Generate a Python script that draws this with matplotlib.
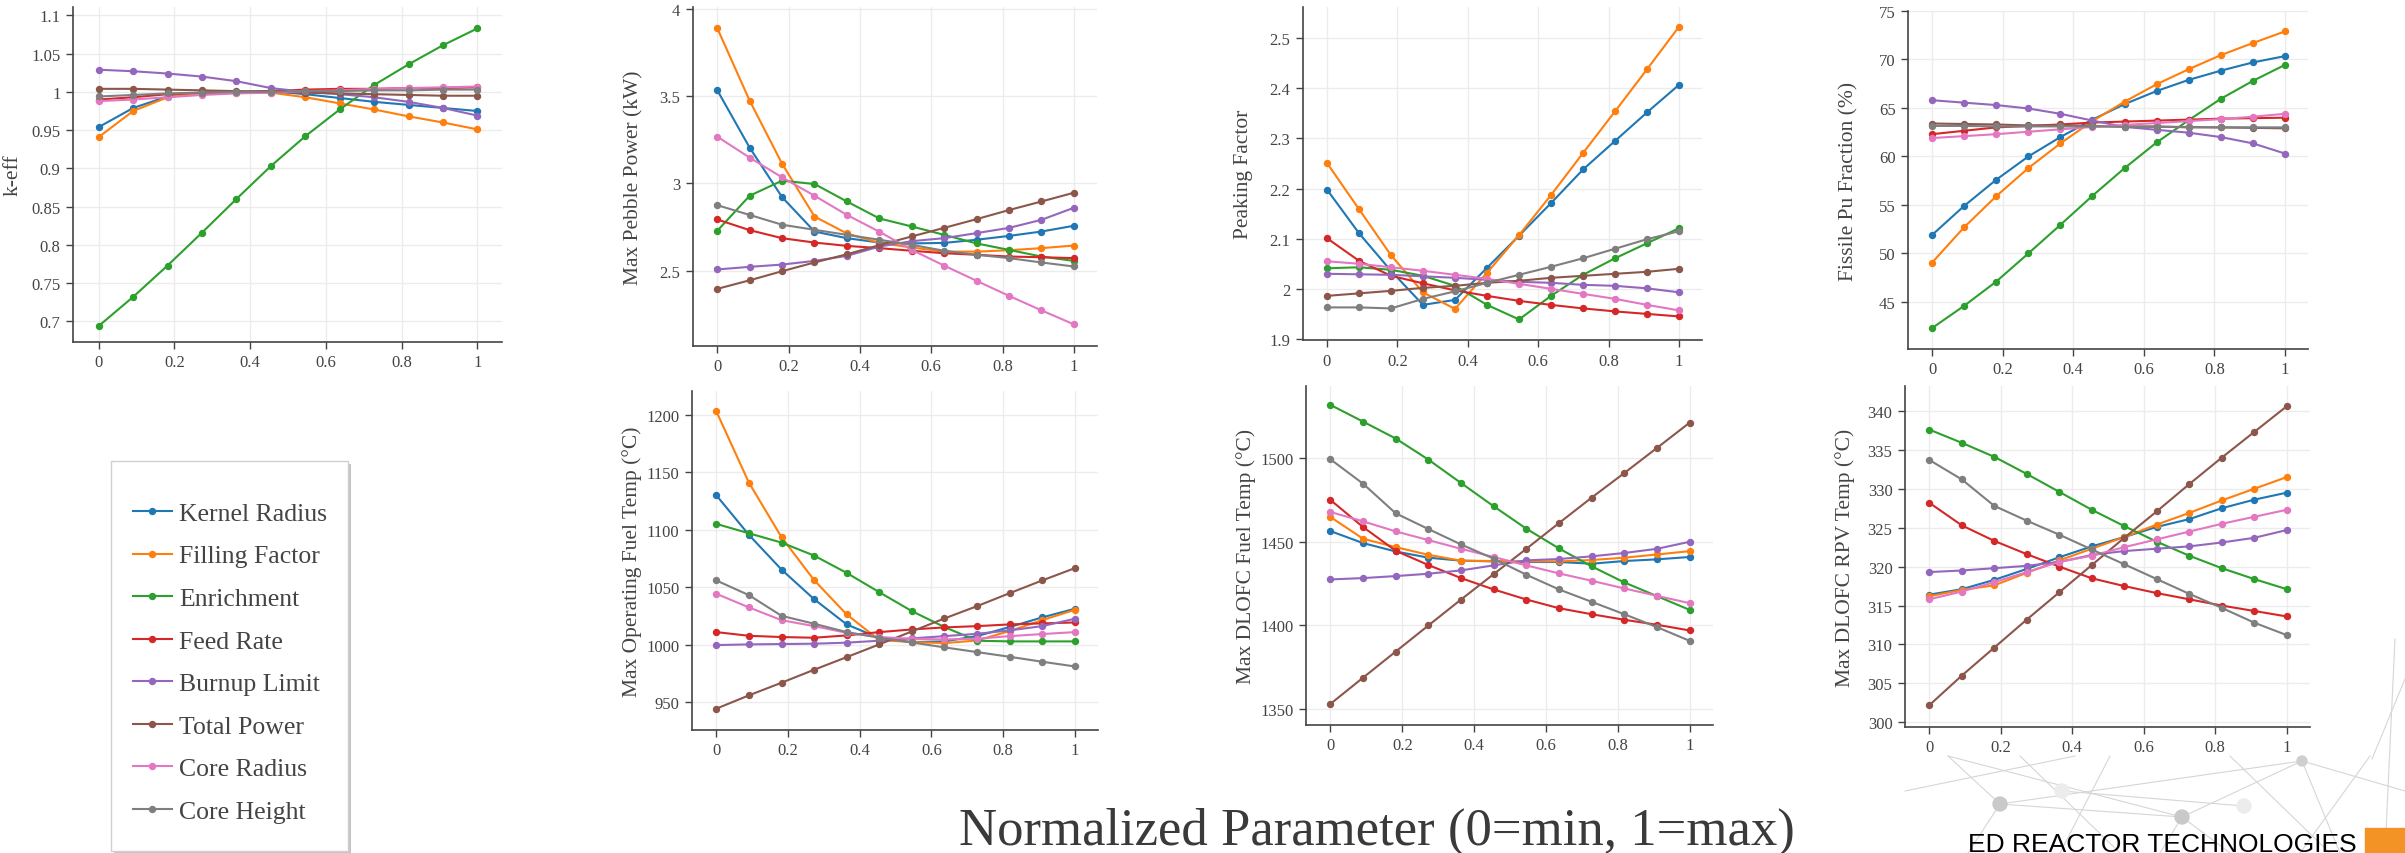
import numpy as np
import matplotlib
matplotlib.use('Agg')
import matplotlib.pyplot as plt
from matplotlib.lines import Line2D
from matplotlib.patches import Rectangle, Ellipse
from matplotlib.ticker import FuncFormatter

W, H = 2405, 854

params = ["Kernel Radius", "Filling Factor", "Enrichment", "Feed Rate",
          "Burnup Limit", "Total Power", "Core Radius", "Core Height"]
colors = ["#1f77b4", "#ff7f0e", "#2ca02c", "#d62728",
          "#9467bd", "#8c564b", "#e377c2", "#7f7f7f"]

x_norm = np.linspace(0, 1, 12)

# one row per parameter, same order as params
keff = [
    [0.954, 0.979, 0.994, 0.999, 1.000, 1.001, 0.997, 0.992, 0.987, 0.983, 0.979, 0.975],
    [0.941, 0.975, 0.993, 0.999, 0.999, 0.999, 0.993, 0.985, 0.977, 0.968, 0.960, 0.951],
    [0.694, 0.732, 0.773, 0.816, 0.860, 0.903, 0.942, 0.977, 1.009, 1.036, 1.061, 1.083],
    [0.990, 0.993, 0.997, 0.999, 1.000, 1.001, 1.003, 1.004, 1.004, 1.005, 1.005, 1.006],
    [1.029, 1.027, 1.024, 1.020, 1.014, 1.005, 1.000, 0.997, 0.993, 0.987, 0.979, 0.969],
    [1.004, 1.004, 1.003, 1.002, 1.001, 1.000, 0.999, 0.998, 0.997, 0.996, 0.995, 0.995],
    [0.988, 0.990, 0.993, 0.996, 0.998, 0.999, 1.001, 1.002, 1.004, 1.005, 1.006, 1.007],
    [0.994, 0.996, 0.998, 0.999, 1.000, 1.000, 1.001, 1.001, 1.002, 1.002, 1.003, 1.003],
]
pebble_power = [
    [3.534, 3.205, 2.922, 2.725, 2.687, 2.662, 2.657, 2.660, 2.678, 2.700, 2.725, 2.758],
    [3.889, 3.474, 3.113, 2.811, 2.714, 2.660, 2.634, 2.610, 2.610, 2.618, 2.630, 2.645],
    [2.729, 2.930, 3.016, 2.997, 2.897, 2.800, 2.754, 2.706, 2.657, 2.620, 2.582, 2.557],
    [2.794, 2.733, 2.687, 2.662, 2.643, 2.630, 2.615, 2.601, 2.592, 2.582, 2.578, 2.573],
    [2.508, 2.523, 2.536, 2.557, 2.586, 2.639, 2.670, 2.687, 2.716, 2.746, 2.792, 2.861],
    [2.397, 2.446, 2.498, 2.548, 2.595, 2.647, 2.697, 2.746, 2.796, 2.848, 2.897, 2.947],
    [3.268, 3.148, 3.035, 2.930, 2.820, 2.724, 2.620, 2.530, 2.443, 2.357, 2.274, 2.194],
    [2.876, 2.820, 2.764, 2.735, 2.706, 2.678, 2.649, 2.615, 2.592, 2.573, 2.548, 2.525],
]
peaking = [
    [2.198, 2.111, 2.036, 1.968, 1.978, 2.042, 2.106, 2.171, 2.238, 2.295, 2.352, 2.407],
    [2.251, 2.159, 2.067, 1.993, 1.960, 2.032, 2.107, 2.187, 2.271, 2.354, 2.438, 2.523],
    [2.041, 2.043, 2.038, 2.026, 2.006, 1.968, 1.939, 1.986, 2.028, 2.061, 2.091, 2.121],
    [2.101, 2.056, 2.026, 2.011, 1.997, 1.986, 1.976, 1.968, 1.961, 1.955, 1.950, 1.945],
    [2.030, 2.029, 2.028, 2.025, 2.022, 2.018, 2.014, 2.012, 2.008, 2.006, 2.001, 1.993],
    [1.986, 1.991, 1.996, 2.002, 2.006, 2.012, 2.016, 2.022, 2.026, 2.030, 2.034, 2.040],
    [2.055, 2.050, 2.043, 2.036, 2.028, 2.020, 2.010, 2.000, 1.990, 1.980, 1.968, 1.957],
    [1.963, 1.963, 1.961, 1.980, 1.995, 2.012, 2.028, 2.044, 2.061, 2.080, 2.099, 2.115],
]
fissile_pu = [
    [51.9, 54.9, 57.6, 60.0, 62.0, 63.8, 65.4, 66.75, 67.9, 68.85, 69.7, 70.35],
    [49.05, 52.7, 55.9, 58.8, 61.35, 63.65, 65.65, 67.45, 69.0, 70.45, 71.7, 72.9],
    [42.3, 44.6, 47.1, 50.0, 52.95, 55.95, 58.8, 61.45, 63.75, 65.95, 67.8, 69.45],
    [62.3, 62.65, 63.0, 63.15, 63.3, 63.5, 63.6, 63.7, 63.8, 63.9, 63.95, 64.0],
    [65.8, 65.55, 65.3, 64.95, 64.4, 63.7, 63.05, 62.75, 62.45, 62.0, 61.35, 60.3],
    [63.4, 63.35, 63.3, 63.2, 63.2, 63.15, 63.1, 63.1, 63.0, 63.0, 62.95, 62.9],
    [61.9, 62.1, 62.3, 62.55, 62.8, 63.05, 63.25, 63.45, 63.65, 63.85, 64.1, 64.4],
    [63.15, 63.15, 63.1, 63.1, 63.1, 63.1, 63.05, 63.05, 63.05, 63.0, 63.0, 63.0],
]
op_fuel_temp = [
    [1130.1, 1095.6, 1065.4, 1039.6, 1017.6, 1005.7, 1002.2, 1002.8, 1007.4, 1015.3, 1023.7, 1031.2],
    [1203.2, 1141.1, 1093.6, 1056.2, 1026.3, 1004.0, 1002.2, 1001.3, 1003.6, 1011.8, 1021.3, 1030.3],
    [1105.2, 1097.0, 1088.9, 1077.6, 1062.5, 1045.7, 1029.2, 1015.3, 1003.4, 1002.8, 1002.8, 1002.8],
    [1010.9, 1007.7, 1006.6, 1006.0, 1008.0, 1010.9, 1013.2, 1015.0, 1016.1, 1017.6, 1018.5, 1019.3],
    [999.6, 1000.2, 1000.5, 1000.8, 1001.7, 1003.4, 1005.4, 1007.4, 1009.4, 1012.4, 1016.1, 1022.5],
    [944.2, 955.8, 966.8, 978.1, 989.1, 1000.2, 1011.5, 1022.8, 1033.5, 1044.8, 1055.9, 1066.6],
    [1044.3, 1032.4, 1021.3, 1016.1, 1010.3, 1006.6, 1005.1, 1004.5, 1005.1, 1007.4, 1009.2, 1010.9],
    [1055.9, 1043.1, 1025.1, 1018.2, 1010.9, 1006.0, 1001.9, 997.6, 993.5, 989.4, 985.1, 981.0],
]
dlofc_fuel_temp = [
    [1456.3, 1449.1, 1444.1, 1440.4, 1438.6, 1438.2, 1437.8, 1437.8, 1436.8, 1438.4, 1439.4, 1440.8],
    [1464.7, 1451.7, 1446.7, 1442.1, 1438.6, 1438.4, 1438.2, 1438.2, 1439.0, 1440.4, 1442.3, 1444.3],
    [1531.7, 1521.7, 1511.6, 1499.0, 1485.0, 1471.1, 1457.7, 1445.9, 1435.2, 1425.6, 1417.4, 1409.2],
    [1474.9, 1458.7, 1444.5, 1436.0, 1428.2, 1421.4, 1415.4, 1410.2, 1406.6, 1403.3, 1400.3, 1396.9],
    [1427.4, 1428.2, 1429.4, 1430.8, 1432.8, 1435.8, 1438.8, 1439.6, 1441.2, 1443.2, 1445.7, 1449.9],
    [1353.0, 1368.7, 1384.3, 1399.9, 1415.4, 1430.6, 1445.7, 1461.1, 1476.3, 1491.0, 1506.0, 1521.1],
    [1467.7, 1462.1, 1456.1, 1450.9, 1445.7, 1440.8, 1435.8, 1431.0, 1426.6, 1422.0, 1417.6, 1413.2],
    [1499.2, 1484.6, 1466.9, 1457.5, 1448.3, 1439.8, 1430.2, 1421.4, 1414.0, 1406.6, 1398.9, 1390.7],
]
dlofc_rpv_temp = [
    [316.4, 317.1, 318.3, 319.7, 321.2, 322.6, 323.8, 325.1, 326.1, 327.5, 328.6, 329.5],
    [316.2, 317.0, 317.6, 319.2, 320.8, 322.3, 323.8, 325.4, 326.9, 328.5, 330.0, 331.5],
    [337.6, 335.9, 334.1, 331.9, 329.6, 327.3, 325.2, 323.2, 321.4, 319.8, 318.4, 317.1],
    [328.2, 325.3, 323.3, 321.6, 320.0, 318.5, 317.5, 316.6, 315.8, 315.0, 314.3, 313.6],
    [319.3, 319.5, 319.8, 320.1, 320.6, 321.5, 322.0, 322.3, 322.6, 323.1, 323.7, 324.7],
    [302.2, 306.0, 309.6, 313.2, 316.7, 320.2, 323.7, 327.1, 330.6, 334.0, 337.3, 340.6],
    [315.8, 316.8, 318.0, 319.3, 320.6, 321.4, 322.5, 323.5, 324.5, 325.5, 326.4, 327.3],
    [333.7, 331.2, 327.8, 325.9, 324.1, 322.2, 320.3, 318.4, 316.5, 314.7, 312.8, 311.2],
]

x_ticks = [0, 0.2, 0.4, 0.6, 0.8, 1]

# (data, y label, y ticks, y limits, axes box in pixels: left, right, top, bottom)
panels = [
    (keff, "k-eff", np.arange(0.7, 1.101, 0.05), (0.673, 1.111), (73, 502, 8, 343)),
    (pebble_power, "Max Pebble Power (kW)", [2.5, 3, 3.5, 4], (2.07, 4.01), (693, 1097, 8, 347)),
    (peaking, "Peaking Factor", np.arange(1.9, 2.501, 0.1), (1.898, 2.562), (1303, 1702, 8, 341)),
    (fissile_pu, "Fissile Pu Fraction (%)", [45, 50, 55, 60, 65, 70, 75], (40.15, 75.0), (1908, 2308, 12, 350)),
    (op_fuel_temp, "Max Operating Fuel Temp (°C)", [950, 1000, 1050, 1100, 1150, 1200], (925.6, 1221), (692, 1098, 392, 731)),
    (dlofc_fuel_temp, "Max DLOFC Fuel Temp (°C)", [1350, 1400, 1450, 1500], (1340.4, 1543), (1306, 1713, 387, 726)),
    (dlofc_rpv_temp, "Max DLOFC RPV Temp (°C)", [300, 305, 310, 315, 320, 325, 330, 335, 340], (299.4, 343.2), (1905, 2310, 387, 728)),
]

plt.rcParams['font.family'] = ['Liberation Serif', 'DejaVu Serif']
TXT = '#444444'

fig = plt.figure(figsize=(W / 100, H / 100), dpi=100)
fig.patch.set_facecolor('white')


def px_rect(l, r, t, b):
    return [l / W, 1 - b / H, (r - l) / W, (b - t) / H]


def draw_network():
    # faint background network decoration behind the logo
    lines = [((1948, 757), (2000, 805)), ((1948, 757), (2182, 818)),
             ((2000, 805), (2302, 762)), ((2182, 818), (2302, 762)),
             ((2302, 762), (2405, 792)), ((1905, 792), (2075, 757)),
             ((2000, 805), (2182, 818)), ((2000, 805), (1968, 854)),
             ((2182, 818), (2160, 854)), ((2182, 818), (2230, 854)),
             ((2302, 762), (2340, 854)), ((2110, 757), (2060, 854)),
             ((2230, 757), (2330, 854)), ((2062, 792), (2244, 807)),
             ((2370, 757), (2300, 854)), ((2395, 640), (2385, 854)),
             ((2405, 680), (2372, 760)), ((2020, 757), (2120, 854))]
    for (x0, y0), (x1, y1) in lines:
        fig.add_artist(Line2D([x0 / W, x1 / W], [1 - y0 / H, 1 - y1 / H],
                              color='#d6d6d6', lw=0.8, zorder=0))
    nodes = [((2000, 805), 7, '#c9c9c9'), ((2182, 818), 7, '#c9c9c9'),
             ((2302, 762), 5, '#cfcfcf'), ((2062, 792), 7, '#ececec'),
             ((2244, 807), 7, '#ececec')]
    for (cx, cy), r, c in nodes:
        fig.add_artist(Ellipse((cx / W, 1 - cy / H), 2 * r / W, 2 * r / H,
                               color=c, zorder=0))


draw_network()

handles = []
for data, ylabel, yticks, ylim, box in panels:
    l, r, t, b = box
    ax = fig.add_axes(px_rect(l, r, t, b))
    ax.set_facecolor('none')
    for i, series in enumerate(data):
        h, = ax.plot(x_norm, series, color=colors[i], lw=1.5, marker='o',
                     markersize=4.3, label=params[i], zorder=3)
        if len(handles) < len(params):
            handles.append(h)
    ax.set_xlim(-0.068, 1.065)
    ax.set_ylim(*ylim)
    ax.set_xticks(x_ticks)
    ax.set_yticks(yticks)
    ax.xaxis.set_major_formatter(FuncFormatter(lambda v, p: f'{round(v, 3):g}'))
    ax.yaxis.set_major_formatter(FuncFormatter(lambda v, p: f'{round(v, 3):g}'))
    ax.grid(True, color='#ececec', lw=1.0, zorder=0)
    ax.set_axisbelow(True)
    for s in ('top', 'right'):
        ax.spines[s].set_visible(False)
    for s in ('left', 'bottom'):
        ax.spines[s].set_color(TXT)
        ax.spines[s].set_linewidth(1.2)
    ax.tick_params(direction='out', length=5, width=1, color=TXT,
                   labelcolor=TXT, labelsize=12, pad=4)
    ax.set_ylabel(ylabel, fontsize=15.5, color=TXT)
    ax.yaxis.set_label_coords(-50 / (r - l), 0.5)

# legend box drawn by hand so the padding matches the reference
lx0, lx1, ly0, ly1 = 111, 348, 462, 852
fig.add_artist(Rectangle(((lx0 + 3) / W, 1 - (ly1 + 3) / H), (lx1 - lx0) / W,
                         (ly1 - ly0) / H, facecolor='#c4c4c4', edgecolor='none', zorder=4))
fig.add_artist(Rectangle((lx0 / W, 1 - ly1 / H), (lx1 - lx0) / W,
                         (ly1 - ly0) / H, facecolor='white', edgecolor='#d0d0d0',
                         lw=1.0, zorder=5))
leg = fig.legend(handles=handles, loc='upper left',
                 bbox_to_anchor=(133 / W, 1 - 503 / H), fontsize=18.5,
                 handlelength=1.5, handletextpad=0.3, labelspacing=0.76,
                 borderpad=0, frameon=False, borderaxespad=0)
leg.set_zorder(6)
for txt in leg.get_texts():
    txt.set_color(TXT)

fig.text(1377 / W, 1 - 845 / H, "Normalized Parameter (0=min, 1=max)",
         ha='center', va='baseline', fontsize=38, color='#3a3a3a')

logo = fig.text(1968 / W, 1 - 852 / H, "ED REACTOR TECHNOLOGIES", ha='left',
                va='baseline', fontsize=24, color='black',
                family=['Liberation Sans Narrow', 'Liberation Sans', 'DejaVu Sans'])
fig.canvas.draw()
bb = logo.get_window_extent()
logo.set_fontsize(24 * 390 / bb.width)
fig.add_artist(Rectangle((2365 / W, 0), 40 / W, 25 / H, color='#f39325', zorder=5))

fig.savefig('out.png', dpi=100)
